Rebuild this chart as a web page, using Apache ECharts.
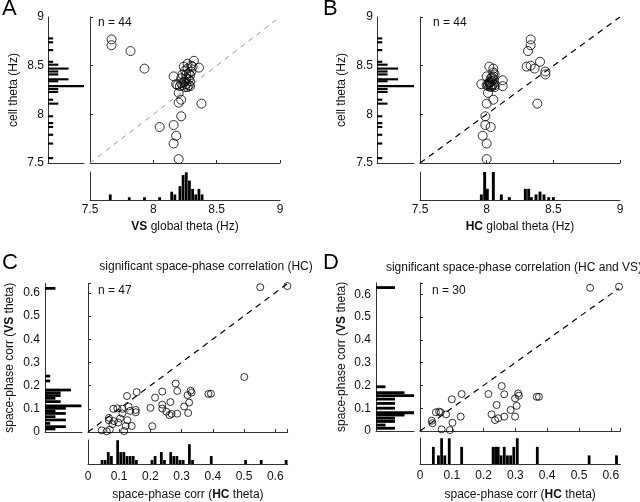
<!DOCTYPE html>
<html>
<head>
<meta charset="utf-8">
<script src="https://cdn.jsdelivr.net/npm/echarts@6/dist/echarts.min.js"></script>
<style>
  html, body { margin: 0; padding: 0; background: #fff; }
  #chart { width: 640px; height: 502px; }
</style>
</head>
<body>
<div id="chart"></div>
<script>
// ---- panel A: VS global theta vs cell theta
var aVsTheta = [7.67, 7.67, 7.82, 7.93, 8.05, 8.16, 8.18, 8.16, 8.20, 8.22, 8.22, 8.20, 8.20, 8.38, 8.16,
  8.18, 8.24, 8.32, 8.36, 8.30, 8.27, 8.28, 8.30, 8.26, 8.22, 8.24, 8.27, 8.25, 8.21, 8.23,
  8.26, 8.28, 8.29, 8.29, 8.25, 8.27, 8.19, 8.23, 8.29, 8.25, 8.31, 8.22, 8.26, 8.28];
var aCellTheta = [8.77, 8.71, 8.65, 8.47, 7.87, 7.89, 7.78, 7.70, 7.54, 7.98, 8.15, 8.12, 8.22, 8.11, 8.39,
  8.31, 8.49, 8.55, 8.48, 8.50, 8.47, 8.42, 8.44, 8.37, 8.37, 8.33, 8.28, 8.28, 8.29, 8.30,
  8.31, 8.30, 8.34, 8.40, 8.45, 8.52, 8.30, 8.41, 8.29, 8.34, 8.49, 8.32, 8.41, 8.36];
var aHistBins = [7.66, 7.81, 7.93, 8.05, 8.145, 8.17, 8.21, 8.235, 8.26, 8.285, 8.31, 8.335, 8.36, 8.385];
var aHistCounts = [2, 1, 1, 1, 3, 2, 5, 9, 10, 7, 4, 2, 4, 2];

// ---- panel B: HC global theta vs cell theta
var bHcTheta = [8.33, 8.33, 8.31, 8.40, 8.30, 8.33, 8.36, 8.44, 8.44, 8.38, 8.00, 8.00, 7.97, 8.03, 7.99,
  7.99, 8.00, 8.05, 8.01, 7.96, 8.00, 8.02, 8.05, 8.12, 8.12, 8.03, 8.01, 8.03, 8.05, 8.06,
  8.02, 8.04, 8.05, 8.06, 8.04, 8.00, 8.03, 8.05, 8.02, 8.06, 8.04, 8.01, 8.05, 8.03];
var bCellTheta = [8.77, 8.71, 8.65, 8.54, 8.49, 8.50, 8.47, 8.44, 8.41, 8.11, 7.54, 7.70, 7.78, 7.87, 7.89,
  7.98, 8.11, 8.15, 8.22, 8.31, 8.39, 8.49, 8.47, 8.35, 8.29, 8.37, 8.29, 8.30, 8.31, 8.28,
  8.33, 8.34, 8.43, 8.41, 8.38, 8.30, 8.28, 8.36, 8.32, 8.30, 8.29, 8.31, 8.39, 8.33];
var bHistBins = [7.96, 7.985, 8.005, 8.05, 8.11, 8.17, 8.29, 8.315, 8.335, 8.37, 8.40, 8.43, 8.465, 8.50];
var bHistCounts = [2, 10, 4, 10, 2, 1, 4, 4, 1, 2, 3, 2, 1, 1];

// cell theta histogram (same for A and B)
var cellHistBins = [8.78, 8.74, 8.66, 8.54, 8.51, 8.47, 8.44, 8.41, 8.36, 8.34, 8.29, 8.26, 8.23,
  8.15, 8.11, 7.98, 7.91, 7.87, 7.79, 7.70, 7.55];
var cellHistCounts = [1, 1, 1, 1, 2, 4, 2, 2, 4, 2, 7, 2, 2, 1, 2, 1, 1, 1, 1, 1, 1];

// ---- panel C: significant HC
var cHc = [0.552, 0.639, 0.501, 0.281, 0.238, 0.286, 0.329, 0.332, 0.319, 0.386, 0.394, 0.215, 0.264, 0.324, 0.238,
  0.308, 0.200, 0.238, 0.251, 0.261, 0.268, 0.286, 0.321, 0.206, 0.156, 0.125, 0.081, 0.094, 0.110, 0.135,
  0.153, 0.153, 0.067, 0.067, 0.083, 0.103, 0.126, 0.097, 0.078, 0.121, 0.140, 0.044, 0.060, 0.070, 0.116,
  0.110, 0.130];
var cVs = [0.624, 0.629, 0.237, 0.209, 0.174, 0.177, 0.178, 0.170, 0.159, 0.164, 0.165, 0.148, 0.129, 0.127, 0.118,
  0.110, 0.104, 0.101, 0.088, 0.073, 0.078, 0.079, 0.082, 0.025, 0.172, 0.155, 0.100, 0.102, 0.100, 0.091,
  0.095, 0.085, 0.061, 0.051, 0.047, 0.058, 0.051, 0.041, 0.034, 0.026, 0.026, 0.007, 0.003, 0.010, 0.004,
  0.080, 0.110];
var cVsHistBins = [0.619, 0.241, 0.22, 0.181, 0.169, 0.157, 0.145, 0.131, 0.113, 0.102, 0.09, 0.08, 0.066,
  0.052, 0.037, 0.023, 0.013];
var cVsHistCounts = [2, 1, 1, 5, 3, 3, 2, 3, 7, 4, 2, 4, 2, 4, 1, 4, 2];
var cHcHistBins = [0.045, 0.055, 0.065, 0.075, 0.095, 0.105, 0.115, 0.125, 0.135, 0.145, 0.155, 0.205, 0.215,
  0.235, 0.245, 0.265, 0.275, 0.285, 0.295, 0.305, 0.325, 0.335, 0.395, 0.505, 0.555, 0.635];
var cHcHistCounts = [1, 1, 3, 2, 6, 3, 3, 2, 2, 2, 1, 1, 2, 3, 1, 3, 2, 2, 1, 1, 5, 1, 2, 1, 1, 1];

// ---- panel D: significant HC and VS
var dHc = [0.535, 0.626, 0.257, 0.265, 0.309, 0.311, 0.299, 0.367, 0.374, 0.215, 0.241, 0.304, 0.285, 0.225, 0.236,
  0.246, 0.265, 0.299, 0.100, 0.131, 0.128, 0.050, 0.065, 0.082, 0.037, 0.039, 0.068, 0.094, 0.102, 0.060];
var dVs = [0.628, 0.633, 0.197, 0.161, 0.165, 0.155, 0.143, 0.150, 0.150, 0.162, 0.114, 0.110, 0.092, 0.073, 0.048,
  0.056, 0.063, 0.063, 0.139, 0.162, 0.063, 0.082, 0.082, 0.073, 0.045, 0.034, 0.007, 0.004, 0.036, 0.085];
var dVsHistBins = [0.629, 0.194, 0.168, 0.155, 0.14, 0.121, 0.1, 0.08, 0.07, 0.056, 0.042, 0.026, 0.012];
var dVsHistCounts = [2, 1, 3, 4, 2, 2, 2, 4, 3, 2, 2, 1, 2];
var dHcHistBins = [0.042, 0.058, 0.068, 0.078, 0.092, 0.131, 0.23, 0.238, 0.246, 0.255, 0.265, 0.275, 0.285,
  0.295, 0.306, 0.369, 0.532, 0.618];
var dHcHistCounts = [2, 1, 3, 1, 3, 2, 2, 2, 2, 1, 2, 1, 1, 2, 3, 2, 1, 1];

// unity lines
var diagTheta = [7.5, 9];
var diagC = [0, 0.64];
var diagD = [0, 0.625];

var font = 'Liberation Sans, Arial, sans-serif';
var axisColor = '#333';
var textColor = '#111';

var grids = [], xAxes = [], yAxes = [], series = [];

function zip(a, b) {
    return a.map(function (v, i) { return [v, b[i]]; });
}

function leftBars(thick) {
    return function (params, api) {
        var c = api.value(0), y = api.value(1);
        var p0 = api.coord([0, y + thick / 2]);
        var p1 = api.coord([c, y - thick / 2]);
        return { type: 'rect', shape: { x: p0[0], y: p0[1], width: p1[0] - p0[0], height: p1[1] - p0[1] },
            style: { fill: '#000' } };
    };
}

function bottomBars(w) {
    return function (params, api) {
        var x = api.value(0), c = api.value(1);
        var p0 = api.coord([x - w / 2, c]);
        var p1 = api.coord([x + w / 2, 0]);
        return { type: 'rect', shape: { x: p0[0], y: p0[1], width: p1[0] - p0[0], height: p1[1] - p0[1] },
            style: { fill: '#000' } };
    };
}

var nameStyle = {
    fontSize: 12, color: textColor, fontFamily: font,
    rich: { b: { fontSize: 12, fontWeight: 'bold', color: textColor, fontFamily: font } }
};

function line() {
    return { show: true, onZero: false, lineStyle: { color: axisColor, width: 1 } };
}

function addPanel(p) {
    var g = grids.length;
    grids.push({ left: p.left, top: p.top, width: p.width, height: p.height });
    grids.push({ left: p.histLeft, top: p.top, width: p.histWidth, height: p.height });
    grids.push({ left: p.left, top: p.botTop, width: p.width, height: p.botHeight });

    // scatter
    xAxes.push({ gridIndex: g, type: 'value', min: p.xMin, max: p.xMax, interval: p.step,
        axisLine: line(), axisTick: { show: true, inside: true, length: 3, lineStyle: { color: axisColor } },
        axisLabel: { show: false }, splitLine: { show: false } });
    yAxes.push({ gridIndex: g, type: 'value', min: p.yMin, max: p.yMax, interval: p.step,
        axisLine: line(), axisTick: { show: true, inside: true, length: 3, lineStyle: { color: axisColor } },
        axisLabel: { show: false }, splitLine: { show: false } });

    // left histogram
    xAxes.push({ gridIndex: g + 1, type: 'value', min: 0, max: p.histMax,
        axisLine: line(), axisTick: { show: false }, axisLabel: { show: false }, splitLine: { show: false } });
    yAxes.push({ gridIndex: g + 1, type: 'value', min: p.yMin, max: p.yMax, interval: p.step,
        axisLine: line(), axisTick: { show: false }, splitLine: { show: false },
        axisLabel: { fontSize: 12, color: textColor, fontFamily: font, margin: p.yLabelMargin, showMaxLabel: p.showMax },
        name: p.yName, nameLocation: 'middle', nameGap: p.yGap, nameTextStyle: nameStyle });

    // bottom histogram
    xAxes.push({ gridIndex: g + 2, type: 'value', min: p.xMin, max: p.xMax, interval: p.step,
        axisLine: line(), axisTick: { show: false }, splitLine: { show: false },
        axisLabel: { fontSize: 12, color: textColor, fontFamily: font, margin: p.xLabelMargin, showMaxLabel: p.showMax },
        name: p.xName, nameLocation: 'middle', nameGap: p.xGap, nameTextStyle: nameStyle });
    yAxes.push({ gridIndex: g + 2, type: 'value', min: 0, max: p.botMax,
        axisLine: line(), axisTick: { show: false }, axisLabel: { show: false }, splitLine: { show: false } });

    series.push({ type: 'line', xAxisIndex: g, yAxisIndex: g, silent: true, symbol: 'none', z: 1,
        data: [[p.diag[0], p.diag[0]], [p.diag[1], p.diag[1]]],
        lineStyle: { color: p.diagColor, width: p.diagWidth, type: p.diagDash } });
    series.push({ type: 'scatter', xAxisIndex: g, yAxisIndex: g, silent: true, z: 3, clip: false,
        data: zip(p.xs, p.ys), symbol: 'circle', symbolSize: p.sym,
        itemStyle: { color: 'rgba(0,0,0,0)', borderColor: '#000', borderWidth: 1 } });
    series.push({ type: 'custom', xAxisIndex: g + 1, yAxisIndex: g + 1, silent: true,
        data: zip(p.lhCounts, p.lhBins), renderItem: leftBars(p.lhThick) });
    series.push({ type: 'custom', xAxisIndex: g + 2, yAxisIndex: g + 2, silent: true,
        data: zip(p.bhBins, p.bhCounts), renderItem: bottomBars(p.bhWidth) });
}

addPanel({ left: 90, top: 17, width: 190, height: 146, histLeft: 48, histWidth: 36, botTop: 172, botHeight: 28,
    xMin: 7.5, xMax: 9, yMin: 7.5, yMax: 9, step: 0.5, histMax: 7, botMax: 10.1, showMax: true,
    xs: aVsTheta, ys: aCellTheta, sym: 9, diag: diagTheta, diagColor: '#999', diagWidth: 1, diagDash: [5, 5],
    lhBins: cellHistBins, lhCounts: cellHistCounts, lhThick: 0.022,
    bhBins: aHistBins, bhCounts: aHistCounts, bhWidth: 0.022,
    yName: 'cell theta (Hz)', yGap: 28, yLabelMargin: 4,
    xName: '{b|VS} global theta (Hz)', xGap: 21, xLabelMargin: 4 });

addPanel({ left: 420, top: 17, width: 200, height: 146, histLeft: 377, histWidth: 37, botTop: 172, botHeight: 28,
    xMin: 7.5, xMax: 9, yMin: 7.5, yMax: 9, step: 0.5, histMax: 7, botMax: 10, showMax: true,
    xs: bHcTheta, ys: bCellTheta, sym: 9, diag: diagTheta, diagColor: '#000', diagWidth: 1.2, diagDash: [6, 5],
    lhBins: cellHistBins, lhCounts: cellHistCounts, lhThick: 0.022,
    bhBins: bHistBins, bhCounts: bHistCounts, bhWidth: 0.022,
    yName: 'cell theta (Hz)', yGap: 29, yLabelMargin: 4,
    xName: '{b|HC} global theta (Hz)', xGap: 21, xLabelMargin: 4 });

addPanel({ left: 88, top: 283.5, width: 199.7, height: 148.5, histLeft: 45, histWidth: 37, botTop: 440, botHeight: 26,
    xMin: 0, xMax: 0.64, yMin: 0, yMax: 0.64, step: 0.1, histMax: 7.1, botMax: 6.05, showMax: false,
    xs: cHc, ys: cVs, sym: 7, diag: diagC, diagColor: '#000', diagWidth: 1.2, diagDash: [6, 5],
    lhBins: cVsHistBins, lhCounts: cVsHistCounts, lhThick: 0.0118,
    bhBins: cHcHistBins, bhCounts: cHcHistCounts, bhWidth: 0.0088,
    yName: 'space-phase corr ({b|VS} theta)', yGap: 29, yLabelMargin: 5,
    xName: 'space-phase corr ({b|HC} theta)', xGap: 25, xLabelMargin: 7 });

addPanel({ left: 420, top: 282.8, width: 200.3, height: 148.2, histLeft: 376, histWidth: 38, botTop: 438, botHeight: 28,
    xMin: 0, xMax: 0.63, yMin: 0, yMax: 0.65, step: 0.1, histMax: 4, botMax: 3.03, showMax: false,
    xs: dHc, ys: dVs, sym: 7, diag: diagD, diagColor: '#000', diagWidth: 1.2, diagDash: [6, 5],
    lhBins: dVsHistBins, lhCounts: dVsHistCounts, lhThick: 0.0125,
    bhBins: dHcHistBins, bhCounts: dHcHistCounts, bhWidth: 0.0088,
    yName: 'space-phase corr ({b|VS} theta)', yGap: 28, yLabelMargin: 5,
    xName: 'space-phase corr ({b|HC} theta)', xGap: 25, xLabelMargin: 5.5 });

var graphics = [
    { type: 'text', x: 2, y: -2, style: { text: 'A', fontSize: 22, fontFamily: font, fill: '#000' } },
    { type: 'text', x: 323, y: -2, style: { text: 'B', fontSize: 22, fontFamily: font, fill: '#000' } },
    { type: 'text', x: 2, y: 252, style: { text: 'C', fontSize: 22, fontFamily: font, fill: '#000' } },
    { type: 'text', x: 323, y: 252, style: { text: 'D', fontSize: 22, fontFamily: font, fill: '#000' } },
    { type: 'text', x: 98, y: 17, style: { text: 'n = 44', fontSize: 12, fontFamily: font, fill: textColor } },
    { type: 'text', x: 433, y: 17, style: { text: 'n = 44', fontSize: 12, fontFamily: font, fill: textColor } },
    { type: 'text', x: 98, y: 285, style: { text: 'n = 47', fontSize: 12, fontFamily: font, fill: textColor } },
    { type: 'text', x: 432, y: 285, style: { text: 'n = 30', fontSize: 12, fontFamily: font, fill: textColor } },
    { type: 'text', x: 206, y: 261, style: { text: 'significant space-phase correlation (HC)', fontSize: 12,
        fontFamily: font, fill: textColor, textAlign: 'center' } },
    { type: 'text', x: 514, y: 262, style: { text: 'significant space-phase correlation (HC and VS)', fontSize: 12,
        fontFamily: font, fill: textColor, textAlign: 'center' } }
];

var chart = echarts.init(document.getElementById('chart'));
chart.setOption({
    animation: false,
    textStyle: { fontFamily: font },
    grid: grids,
    xAxis: xAxes,
    yAxis: yAxes,
    graphic: graphics,
    series: series
});
</script>
</body>
</html>
